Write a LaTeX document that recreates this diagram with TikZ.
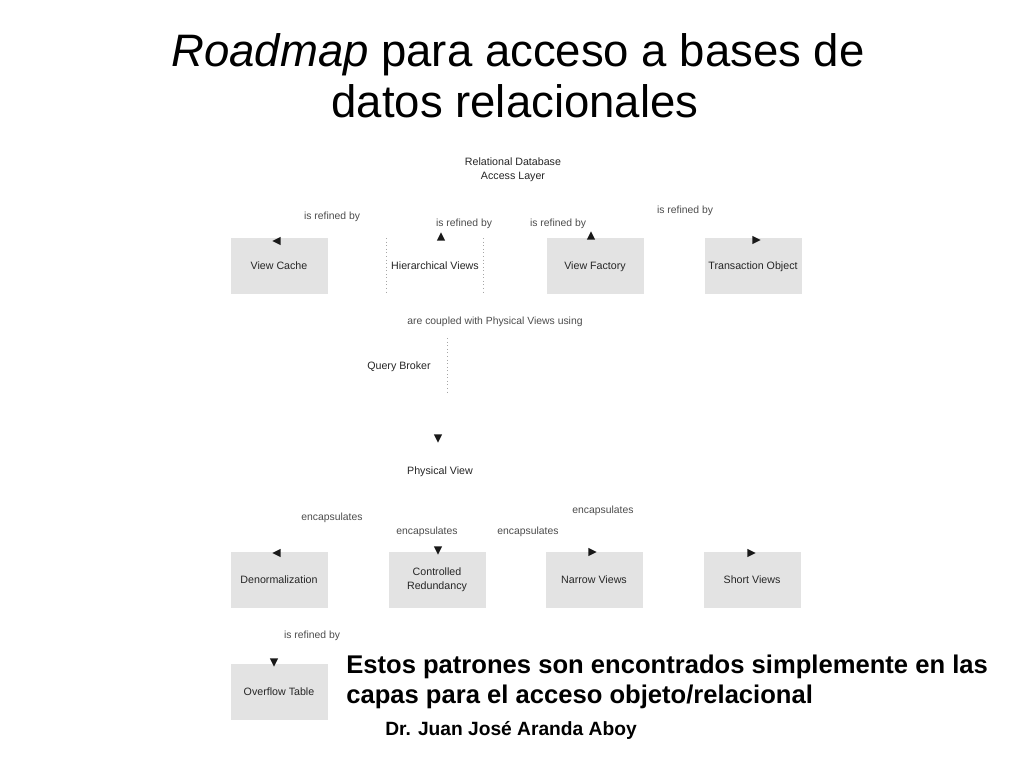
\documentclass[tikz,border=0pt]{standalone}
\usepackage{fontspec}
\setmainfont{Liberation Sans}
\usetikzlibrary{shapes.geometric}
\begin{document}
\begin{tikzpicture}[x=0.703125pt,y=-0.703125pt,
  box/.style={fill=black!11, minimum width=68.2pt, minimum height=38.7pt, inner sep=0pt, align=center, font=\fontsize{7.5}{10}\selectfont, text=black!85},
  one/.style={text height=5.4pt, text depth=0.4pt},
  plain/.style={inner sep=0pt, align=center, font=\fontsize{7.5}{10}\selectfont, text=black!85},
  openbox/.style={minimum width=68.2pt, minimum height=38.7pt, inner sep=0pt, align=center, font=\fontsize{7.5}{10}\selectfont, text=black!85, one},
  edge dots/.style={draw=black!35, dotted, line width=0.5pt},
  lbl/.style={inner sep=0pt, font=\fontsize{7.3}{9}\selectfont, text=black!70},
  tip/.style={isosceles triangle, isosceles triangle apex angle=60, isosceles triangle stretches, fill=black!90, inner sep=0pt, minimum width=5.8pt, minimum height=5.8pt, shape border rotate=#1}]
\useasboundingbox (0,0) rectangle (1024,768);
\fill[white] (0,0) rectangle (1024,768);
% title
\node[anchor=base, inner sep=0pt, font=\fontsize{32}{36}\selectfont] (t1) at (518,66.5) {\textit{Roadmap} para acceso a bases de};
\node[anchor=base, inner sep=0pt, font=\fontsize{32}{36}\selectfont] (t2) at (515,118) {datos relacionales};
% root
\node[plain] (root) at (513,170) {Relational Database\\Access Layer};
% top row
\node[box, one] (vc) at (279,266) {View Cache};
\node[openbox] (hv) at (435,266) {Hierarchical Views};
\draw[edge dots] (hv.north west) -- (hv.south west) (hv.north east) -- (hv.south east);
\node[box, one] (vf) at (595,266) {View Factory};
\node[box, one] (to) at (753,266) {Transaction Object};
% arrowheads top
\node[tip=150] (a1) at (278,241) {};
\node[tip=90] (a2) at (441,238) {};
\node[tip=90] (a3) at (591,237) {};
\node[tip=20] (a4) at (755,240) {};
% labels top
\node[lbl] (l1) at (332,217) {is refined by};
\node[lbl] (l2) at (464,224) {is refined by};
\node[lbl] (l3) at (558,224) {is refined by};
\node[lbl] (l4) at (685,211) {is refined by};
% query broker
\node[lbl] (l5) at (495,322) {are coupled with Physical Views using};
\node[openbox] (qb) at (399,366) {Query Broker};
\draw[edge dots] (qb.north east) -- (qb.south east);
\node[tip=-90] (a5) at (438,437) {};
\node[plain, one] (pv) at (440,471) {Physical View};
% labels bottom
\node[lbl] (l6) at (332,518) {encapsulates};
\node[lbl] (l7) at (427,532) {encapsulates};
\node[lbl] (l8) at (528,532) {encapsulates};
\node[lbl] (l9) at (603,511) {encapsulates};
% bottom row
\node[box, one] (dn) at (279,580) {Denormalization};
\node[box] (cr) at (437,580) {Controlled\\Redundancy};
\node[box, one] (nv) at (594,580) {Narrow Views};
\node[box, one] (sv) at (752,580) {Short Views};
% arrowheads bottom
\node[tip=145] (b1) at (278,553) {};
\node[tip=-90] (b2) at (438,549) {};
\node[tip=40] (b3) at (591,552) {};
\node[tip=20] (b4) at (750,553) {};
% overflow
\node[lbl] (l10) at (312,636) {is refined by};
\node[box, one] (ot) at (279,692) {Overflow Table};
\node[tip=-90] (c1) at (274,661) {};
% text
\node[anchor=base west, inner sep=0pt, font=\bfseries\fontsize{18}{21}\selectfont] (e1) at (346,673) {Estos patrones son encontrados simplemente en las};
\node[anchor=base west, inner sep=0pt, font=\bfseries\fontsize{18}{21}\selectfont] (e2) at (346,703) {capas para el acceso objeto/relacional};
\node[anchor=base west, inner sep=0pt, font=\bfseries\fontsize{13.5}{16}\selectfont] (dr) at (385,735) {Dr. Juan José Aranda Aboy};
\end{tikzpicture}
\end{document}
